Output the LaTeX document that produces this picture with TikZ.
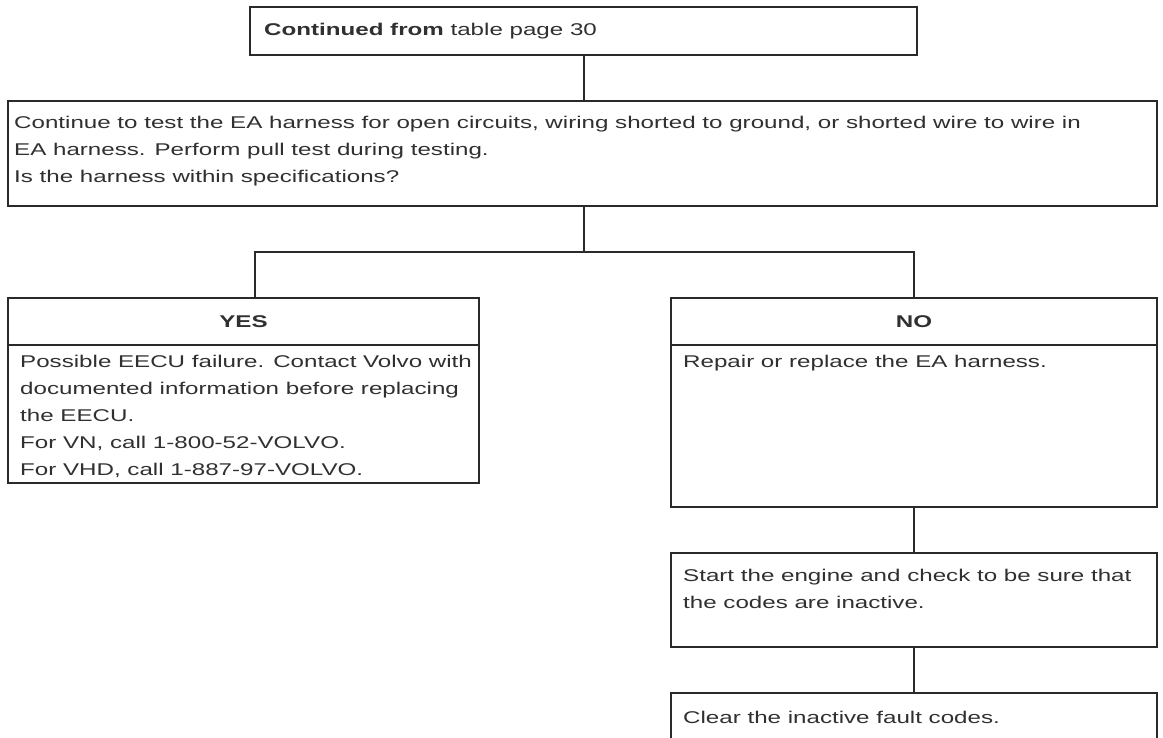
\documentclass[tikz,border=0pt]{standalone}
\usepackage{fontspec}
\setmainfont{Liberation Sans}[FakeStretch=1.42]
\definecolor{lc}{HTML}{2A2A2A}
\definecolor{tc}{HTML}{303030}
\begin{document}
\begin{tikzpicture}[x=1pt,y=-1pt]
\tikzset{
  box/.style={draw=lc, line width=1.6pt, anchor=north west, inner sep=0pt, outer sep=0pt},
  txt/.style={anchor=north west, inner sep=0pt, align=left, text=tc, font=\fontsize{17}{27}\selectfont},
  hdr/.style={inner sep=0pt, text=tc, font=\fontsize{17}{20}\selectfont\bfseries},
  conn/.style={draw=lc, line width=1.6pt}
}
\fill[white] (0,0) rectangle (1163,737);
\useasboundingbox (0,0) rectangle (1163,737);
% boxes
\node[box, minimum width=667pt, minimum height=48pt] (top) at (250,7) {};
\node[box, minimum width=1149pt, minimum height=105pt] (main) at (8,101) {};
\node[box, minimum width=471pt, minimum height=47pt] (yeshead) at (8,298) {};
\node[box, minimum width=471pt, minimum height=138pt] (yesbody) at (8,345) {};
\node[box, minimum width=486pt, minimum height=47pt] (nohead) at (671,298) {};
\node[box, minimum width=486pt, minimum height=162pt] (nobody) at (671,345) {};
\node[box, minimum width=486pt, minimum height=94pt] (start) at (671,553) {};
\node[box, minimum width=486pt, minimum height=80pt] (clear) at (671,693) {};
% texts
\node[txt, anchor=west] (toptxt) at (264,31) {\textbf{Continued from} table page 30};
\node[txt] (maintxt) at (14,116) {Continue to test the EA harness for open circuits, wiring shorted to ground, or shorted wire to wire in\\EA harness. Perform pull test during testing.\\Is the harness within specifications?};
\node[hdr] (yestxt) at (yeshead.center) {YES};
\node[hdr] (notxt) at (nohead.center) {NO};
\node[txt] (yesbodytxt) at (20,355) {Possible EECU failure. Contact Volvo with\\documented information before replacing\\the EECU.\\For VN, call 1-800-52-VOLVO.\\For VHD, call 1-887-97-VOLVO.};
\node[txt] (nobodytxt) at (683,355) {Repair or replace the EA harness.};
\node[txt] (starttxt) at (683,569) {Start the engine and check to be sure that\\the codes are inactive.};
\node[txt] (cleartxt) at (683,711) {Clear the inactive fault codes.};
% connectors
\coordinate (branch) at (584,252);
\coordinate (yestop) at (255,298);
\draw[conn] (top.south -| branch) -- (main.north -| branch);
\draw[conn] (main.south -| branch) -- (branch);
\draw[conn] (yestop) |- (branch) -| (nohead.north);
\draw[conn] (nobody.south -| nohead.north) -- (start.north -| nohead.north);
\draw[conn] (start.south -| nohead.north) -- (clear.north -| nohead.north);
\end{tikzpicture}
\end{document}
